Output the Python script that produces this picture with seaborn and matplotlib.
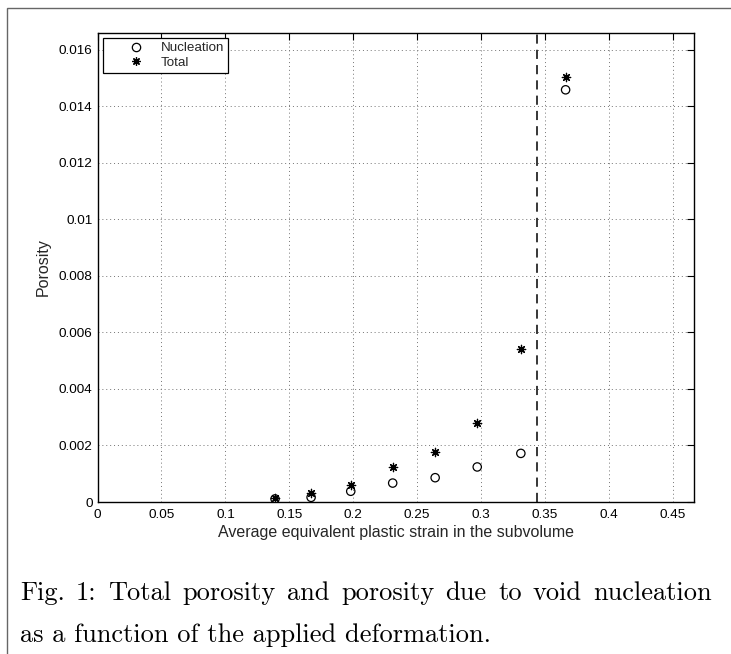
import numpy as np
import pandas as pd
import matplotlib
matplotlib.use('Agg')
import matplotlib.pyplot as plt
import seaborn as sns
from matplotlib.patches import Rectangle
from matplotlib.lines import Line2D
from matplotlib.ticker import MultipleLocator, FuncFormatter

# values
strain = [0.1388, 0.167, 0.198, 0.2308, 0.264, 0.2969, 0.331, 0.366]
nucleation = [0.00011, 0.000165, 0.00038, 0.00067, 0.00086, 0.00124, 0.00172, 0.01458]
total = [0.00013, 0.00031, 0.00061, 0.00123, 0.00177, 0.0028, 0.0054, 0.01503]
critical_strain = 0.344

sns.set_style('white')
plt.rcParams['font.family'] = ['Liberation Sans', 'DejaVu Sans']

fig = plt.figure(figsize=(7.31, 6.54), dpi=100)
ax = fig.add_axes([0.1334, 0.2324, 0.8160, 0.7176])

# nucleation: open circles
sns.scatterplot(x=strain, y=nucleation, marker='o', s=36, facecolor='none',
                edgecolor='black', linewidth=0.9, ax=ax, zorder=3)
# total: asterisks
sns.scatterplot(x=strain, y=total, marker=(8, 2, 0), s=36, color='black',
                linewidth=0.9, ax=ax, zorder=3)

ax.axvline(critical_strain, color='black', linestyle=(0, (6, 4)), lw=1.1)

ax.set_xlim(0, 0.4664)
ax.set_ylim(0, 0.0166)
ax.xaxis.set_major_locator(MultipleLocator(0.05))
ax.yaxis.set_major_locator(MultipleLocator(0.002))
fmt = FuncFormatter(lambda v, p: '%g' % round(v, 6))
ax.xaxis.set_major_formatter(fmt)
ax.yaxis.set_major_formatter(fmt)
ax.tick_params(direction='in', length=5, width=0.8, top=True, right=True,
               labelsize=9.7, colors='black')
ax.tick_params(axis='x', pad=5)
ax.grid(True, linestyle=(0, (1, 3)), color='0.45', lw=0.7)
for sp in ax.spines.values():
    sp.set_color('black')
    sp.set_linewidth(1.0)

ax.set_xlabel('Average equivalent plastic strain in the subvolume', fontsize=11.5, labelpad=3)
ax.set_ylabel('Porosity', fontsize=11.5, labelpad=6)

handles = [Line2D([], [], marker='o', ls='', mfc='none', mec='black', ms=6, mew=0.9),
           Line2D([], [], marker=(8, 2, 0), ls='', color='black', ms=6, mew=0.9)]
leg = ax.legend(handles, ['Nucleation', 'Total'], loc='upper left', fontsize=9.6,
                frameon=True, fancybox=False, framealpha=1, edgecolor='black',
                borderaxespad=0.4, handletextpad=-0.35, borderpad=0.3,
                labelspacing=0.15, handlelength=4.4)
leg.get_frame().set_linewidth(0.9)

# outer frame of the figure box
fig.patches.append(Rectangle((7 / 731, -0.1), 1.2, 1.1 - 8 / 654,
                             transform=fig.transFigure, fill=False,
                             edgecolor='0.4', lw=1.0, clip_on=False))

# caption, first line justified between x=20 and x=712 px
cap = dict(family='cmr10', fontsize=19, color='black', va='baseline', ha='left')
words = ['Fig.', '1:', 'Total', 'porosity', 'and', 'porosity', 'due', 'to', 'void', 'nucleation']
renderer = fig.canvas.get_renderer()
texts = [fig.text(0, 1 - 600 / 654, w, **cap) for w in words]
widths = [t.get_window_extent(renderer).width for t in texts]
gap = (712 - 20 - sum(widths)) / (len(words) - 1)
xpos = 20
for t, w in zip(texts, widths):
    t.set_x(xpos / 731)
    xpos += w + gap
fig.text(20 / 731, 1 - 642 / 654, 'as a function of the applied deformation.', **cap)

fig.savefig('out.png', dpi=100)
